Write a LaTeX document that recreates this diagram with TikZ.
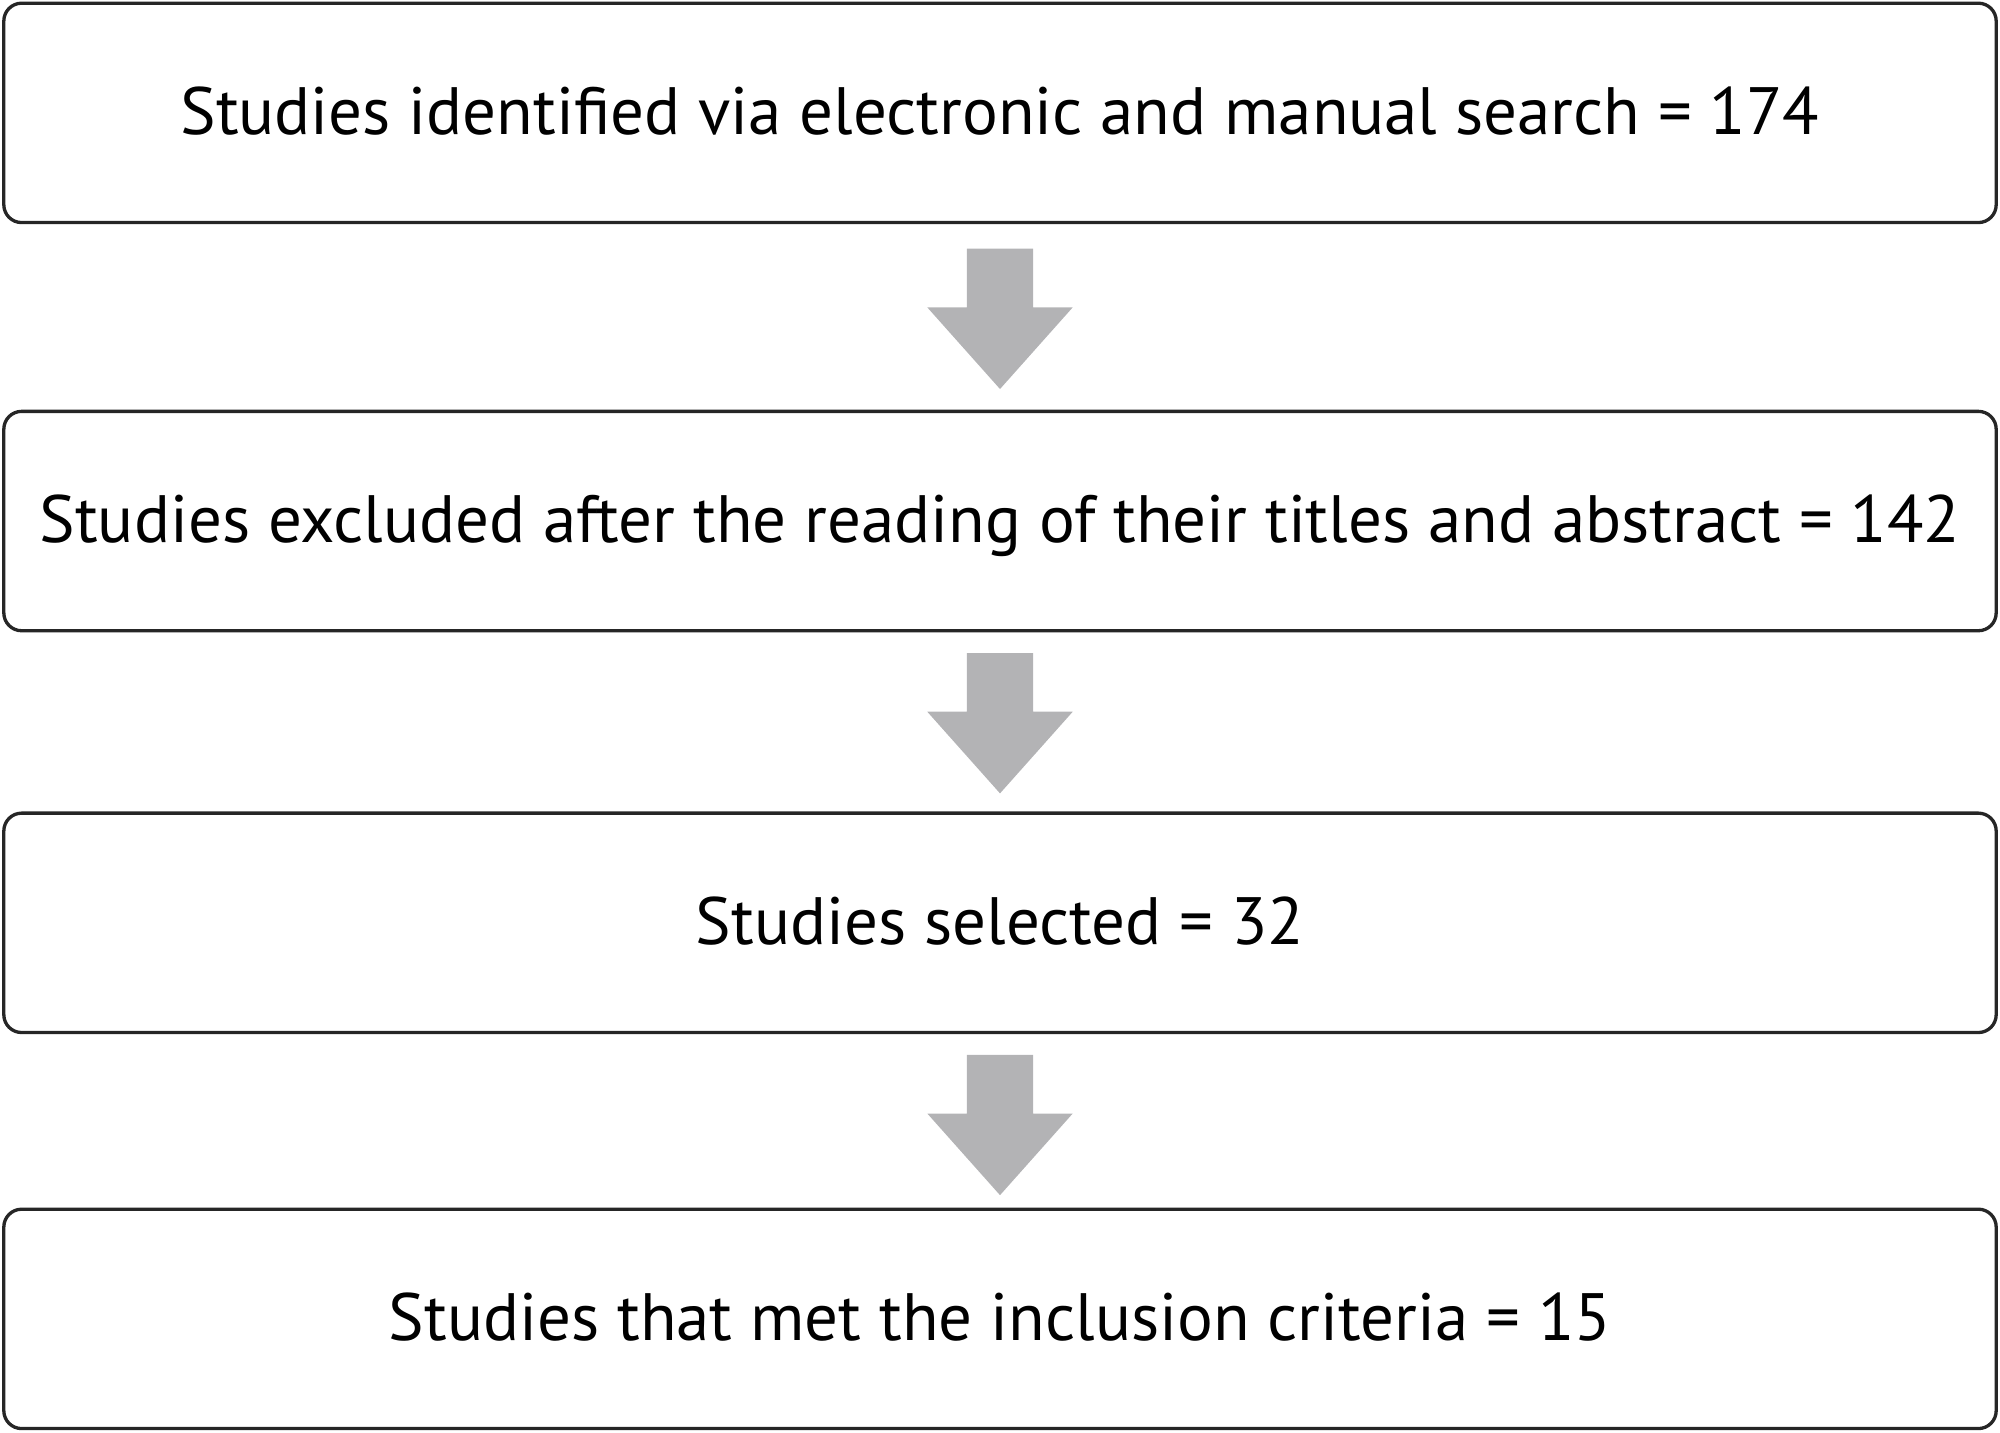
\documentclass[tikz,border=0pt]{standalone}
\usepackage{fontspec}
\setmainfont{PT Sans}
\begin{document}
\begin{tikzpicture}[x=1pt,y=-1pt,
  stagebox/.style={draw=black!85,line width=2.6pt,rounded corners=14pt,minimum width=1562pt,minimum height=172pt,font=\fontsize{52.5}{60}\selectfont,inner sep=0pt,text depth=4pt},
  ]
\useasboundingbox (0,0) rectangle (1568,1123.3);
\node[stagebox] (b1) at (784,88.5) {Studies identified via electronic and manual search = 174};
\node[stagebox] (b2) at (784,408.5) {Studies excluded after the reading of their titles and abstract = 142};
\node[stagebox] (b3) at (784,723.5) {Studies selected = 32};
\node[stagebox] (b4) at (784,1034) {Studies that met the inclusion criteria = 15};
\foreach \t in {195,512,827}{
  \fill[color={rgb,255:red,179;green,179;blue,181}] (758,\t) -- (810,\t) -- (810,\t+46) -- (841,\t+46) -- (784,\t+110) -- (727,\t+46) -- (758,\t+46) -- cycle;
}
\end{tikzpicture}
\end{document}
